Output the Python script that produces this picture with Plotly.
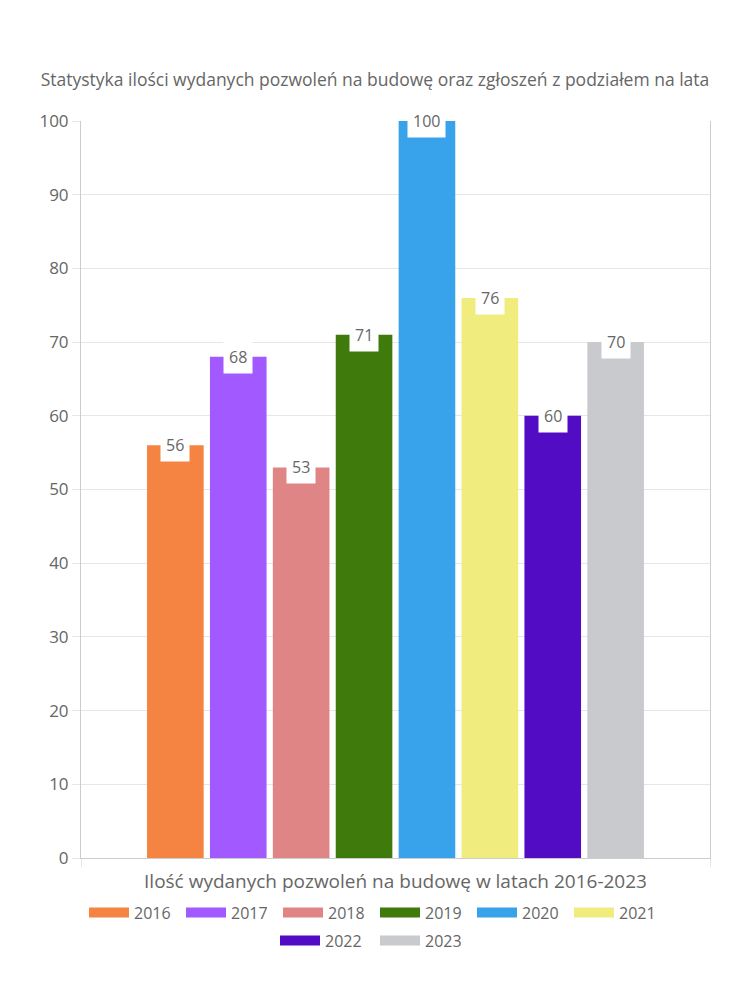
import plotly.graph_objects as go

title_text = "Statystyka ilości wydanych pozwoleń na budowę oraz zgłoszeń z podziałem na lata"
category_label = "Ilość wydanych pozwoleń na budowę w latach 2016-2023"
years = ["2016", "2017", "2018", "2019", "2020", "2021", "2022", "2023"]
values = [56, 68, 53, 71, 100, 76, 60, 70]
colors = ["#F58442", "#A259FF", "#E08585", "#3F7B0C", "#38A2EB", "#F0EC7E", "#520CC3", "#C9CACE"]
y_ticks = [0, 10, 20, 30, 40, 50, 60, 70, 80, 90, 100]

FONT = "Open Sans"
GRAY = "#666666"
GRID = "#e6e6e6"

fig = go.Figure()
n = len(years)
for i, (yr, v, c) in enumerate(zip(years, values, colors)):
    fig.add_trace(go.Bar(x=[i], y=[v], width=0.9, marker=dict(color=c, line=dict(width=0)),
                         name=yr, legendgroup=yr, showlegend=False, hoverinfo="y+name"))
    fig.add_trace(go.Scatter(x=[None], y=[None], mode="lines", name=yr, legendgroup=yr,
                             line=dict(color=c, width=13),
                             legend="legend" if i < 6 else "legend2"))
    fig.add_annotation(x=i, y=v, text=str(v), showarrow=False, xanchor="center", yanchor="middle",
                       bgcolor="white", borderpad=5, font=dict(family=FONT, size=16, color=GRAY))

center = (n - 1) / 2
half = n / 0.8 / 2
legend_x = (375 - 81) / 629
fig.update_layout(
    width=750, height=1000,
    margin=dict(l=81, r=40, t=121, b=142),
    paper_bgcolor="white", plot_bgcolor="white",
    font=dict(family=FONT, color=GRAY, size=16),
    title=dict(text=title_text, x=0.5, xanchor="center", y=1 - 80 / 1000, yanchor="middle",
               font=dict(family=FONT, size=17.5, color=GRAY)),
    barmode="overlay",
    xaxis=dict(range=[center - half, center + half], tickmode="array", tickvals=[center],
               ticktext=[category_label], ticks="", showgrid=False, showline=True, linecolor="#cccccc",
               tickfont=dict(size=19, color=GRAY), zeroline=False, fixedrange=True,
               ticklabelstandoff=6,
               minor=dict(tickmode="array", tickvals=[center - half, center + half], ticks="outside",
                          ticklen=8, tickcolor=GRID, showgrid=True, gridcolor=GRID)),
    yaxis=dict(range=[0, 100], tickmode="array", tickvals=y_ticks, ticks="outside", ticklen=8,
               tickcolor=GRID, gridcolor=GRID, showline=True, linecolor="#cccccc", mirror=True,
               zeroline=False, tickfont=dict(size=17, color=GRAY), fixedrange=True),
    legend=dict(orientation="h", x=legend_x, xanchor="center", y=-0.051, yanchor="top",
                font=dict(size=16, color=GRAY), itemwidth=40, entrywidth=42, traceorder="normal"),
    legend2=dict(orientation="h", x=legend_x, xanchor="center", y=-0.089, yanchor="top",
                 font=dict(size=16, color=GRAY), itemwidth=40, entrywidth=45, traceorder="normal"),
)
fig.write_html("out.html")
